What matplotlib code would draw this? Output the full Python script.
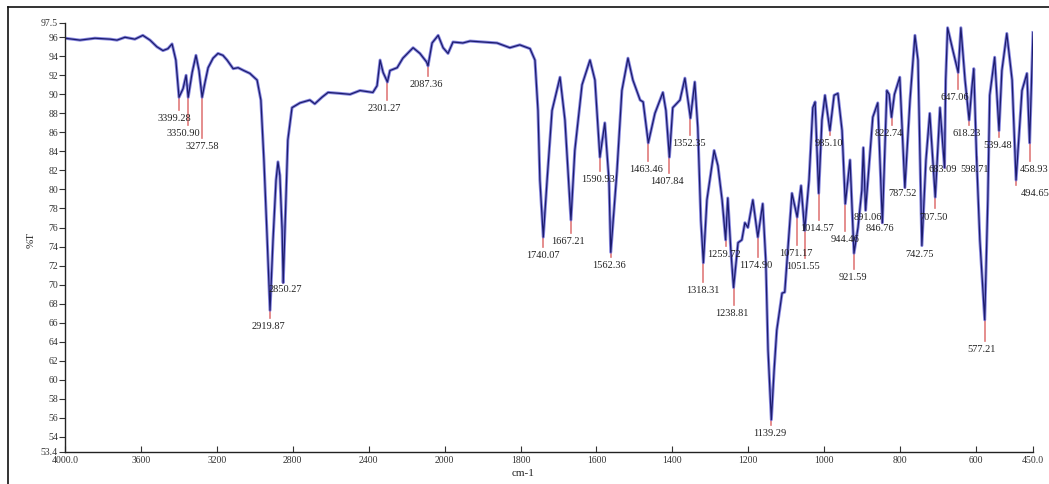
import numpy as np
import matplotlib
matplotlib.use("Agg")
import matplotlib.pyplot as plt
from matplotlib.lines import Line2D

# spectrum (wavenumber cm-1, %T)
wn = [4000, 3921, 3842, 3762, 3726, 3684, 3632, 3590, 3552, 3516,
      3484, 3458, 3436, 3416, 3399.28, 3378, 3362, 3350.9, 3330, 3310,
      3294, 3277.58, 3262, 3246, 3220, 3194, 3168, 3146, 3114, 3088,
      3058, 3026, 2988, 2968, 2952, 2936, 2919.87, 2904, 2888, 2878,
      2868, 2856, 2850.27, 2836, 2826, 2804, 2762, 2710, 2684, 2646,
      2614, 2552, 2498, 2446, 2378, 2356, 2340, 2324, 2301.27, 2288,
      2250, 2220, 2166, 2130, 2095, 2087.36, 2066, 2034, 2008, 1991,
      1978, 1952, 1933, 1899, 1862, 1828, 1802, 1775, 1762, 1754,
      1749, 1740.07, 1730, 1717, 1696, 1683, 1667.21, 1657, 1638, 1617,
      1604, 1590.93, 1578, 1567, 1562.36, 1546, 1533, 1517, 1504, 1485,
      1477, 1463.46, 1446, 1425, 1417, 1407.84, 1399, 1380, 1367, 1352.35,
      1341, 1333, 1325, 1318.31, 1309, 1290, 1280, 1269, 1259.72, 1254,
      1246, 1238.81, 1227, 1217, 1209, 1201, 1188, 1174.9, 1162, 1154,
      1148, 1139.29, 1132, 1125, 1111, 1104, 1096, 1085, 1071.17, 1061,
      1051.55, 1040, 1030, 1024, 1014.57, 1006, 998, 985.1, 974, 964,
      953, 944.46, 932, 921.59, 911, 901, 897, 891.06, 872, 859,
      846.76, 835, 829, 822.74, 815, 801, 787.52, 774, 761, 753,
      742.75, 732, 722, 707.5, 695, 683.09, 680, 675, 661, 647.06,
      640, 629, 618.23, 611, 606, 598.71, 590, 577.21, 569, 564,
      551, 539.48, 532, 519, 505, 494.65, 479, 466, 458.93, 450]
tr = [95.9, 95.7, 95.9, 95.8, 95.7, 96.0, 95.8, 96.2, 95.7, 95.0,
      94.6, 94.8, 95.3, 93.6, 89.7, 90.6, 92.0, 89.7, 92.3, 94.1,
      92.5, 89.7, 91.3, 92.8, 93.8, 94.3, 94.1, 93.6, 92.7, 92.8,
      92.5, 92.2, 91.5, 89.4, 83.1, 75.4, 67.3, 74.7, 81.0, 82.9,
      81.5, 75.7, 70.2, 78.9, 85.2, 88.6, 89.1, 89.4, 89.0, 89.7,
      90.2, 90.1, 90.0, 90.4, 90.2, 90.9, 93.6, 92.3, 91.3, 92.5,
      92.8, 93.8, 94.9, 94.3, 93.4, 93.0, 95.4, 96.2, 94.9, 94.3,
      95.5, 95.4, 95.6, 95.5, 95.4, 94.9, 95.2, 94.8, 93.6, 88.3,
      81.0, 75.0, 81.0, 88.3, 91.8, 87.3, 76.8, 84.1, 91.0, 93.6,
      91.5, 83.4, 87.0, 81.0, 73.4, 81.9, 90.4, 93.8, 91.5, 89.4,
      89.2, 84.9, 88.0, 90.2, 88.3, 83.4, 88.6, 89.4, 91.7, 87.5,
      91.3, 86.5, 76.8, 72.3, 78.9, 84.1, 82.5, 78.9, 74.7, 79.1,
      73.6, 69.7, 74.4, 74.7, 76.5, 76.0, 78.9, 75.0, 78.5, 72.6,
      63.1, 55.8, 61.0, 65.2, 69.1, 69.2, 73.6, 79.6, 77.1, 80.4,
      75.7, 81.0, 88.6, 89.2, 79.6, 87.3, 89.9, 86.2, 89.9, 90.1,
      86.2, 78.5, 83.1, 73.3, 76.0, 79.9, 84.4, 77.8, 87.6, 89.1,
      76.5, 90.4, 90.0, 87.6, 90.0, 91.8, 80.2, 89.4, 96.2, 93.6,
      74.1, 83.1, 88.0, 79.2, 88.6, 82.3, 91.5, 97.0, 94.6, 92.3,
      97.0, 91.5, 87.3, 90.7, 92.7, 83.4, 74.7, 66.3, 78.9, 89.9,
      93.9, 86.2, 92.5, 96.4, 91.5, 81.0, 90.4, 92.2, 84.9, 96.5]

# picked peaks and where their labels sit
peaks = [3399.28, 3350.90, 3277.58, 2919.87, 2850.27, 2301.27, 2087.36,
         1740.07, 1667.21, 1590.93, 1562.36, 1463.46, 1407.84, 1352.35,
         1318.31, 1259.72, 1238.81, 1174.90, 1139.29, 1071.17, 1051.55,
         1014.57, 985.10, 944.46, 921.59, 891.06, 846.76, 822.74, 787.52,
         742.75, 707.50, 683.09, 598.71, 647.06, 618.23, 577.21, 539.48,
         458.93, 494.65]
lab_x = [3426, 3378, 3278, 2930, 2840, 2320, 2098,
         1741, 1675, 1596, 1567, 1470, 1414, 1356,
         1319, 1264, 1243, 1180, 1143, 1075, 1056,
         1019, 988, 945, 924, 885, 853, 830, 793,
         748, 711, 687, 603, 656, 624, 585, 543,
         448, 445]
lab_y = [87.5, 85.9, 84.5, 65.6, 69.5, 88.5, 91.0,
         73.1, 74.5, 81.0, 72.0, 82.1, 80.8, 84.8,
         69.4, 73.2, 67.0, 72.0, 54.3, 73.3, 71.9,
         75.9, 84.8, 74.7, 70.7, 77.1, 75.9, 85.9, 79.6,
         73.2, 77.1, 82.1, 82.1, 89.7, 85.9, 63.2, 84.6,
         82.1, 79.6]

xticks = [4000, 3600, 3200, 2800, 2400, 2000, 1800, 1600, 1400, 1200,
          1000, 800, 600, 450]
xtick_labels = ['4000.0', '3600', '3200', '2800', '2400', '2000', '1800',
                '1600', '1400', '1200', '1000', '800', '600', '450.0']
yticks = [52.4] + list(range(54, 97, 2)) + [97.5]
ytick_labels = ['53.4'] + [str(v) for v in range(54, 97, 2)] + ['97.5']


# instrument-style axis: above 2000 cm-1 the scale is compressed 2x
def fwd(x):
    x = np.asarray(x, dtype=float)
    return np.where(x > 2000, 1000 + x / 2.0, x)


def inv(u):
    u = np.asarray(u, dtype=float)
    return np.where(u > 2000, 2.0 * (u - 1000), u)


plt.rcParams['font.family'] = ['Liberation Serif', 'DejaVu Serif']

fig = plt.figure(figsize=(10.49, 4.84), dpi=100)
ax = fig.add_axes([65 / 1049, 1 - 452 / 484, 968 / 1049, 429 / 484])
ax.set_xscale('function', functions=(fwd, inv))

ax.plot(wn, tr, color='#6a6ad8', lw=2.2, alpha=0.8)
ax.plot(wn, tr, color='#1c1c6e', lw=0.9)

wn_arr = np.array(wn)[::-1]
tr_arr = np.array(tr)[::-1]
for p, lx, ly in zip(peaks, lab_x, lab_y):
    py = np.interp(p, wn_arr, tr_arr)
    ax.plot([p, p], [py, ly + 0.9], color='#e07a7a', lw=1.2, zorder=1)
    ax.text(lx, ly, '%.2f' % p, ha='center', va='center', fontsize=7.5,
            color='#222222', clip_on=False)

ax.set_xlim(4000, 450)
ax.set_ylim(52.4, 97.5)
ax.set_xticks(xticks)
ax.set_xticklabels(xtick_labels)
ax.set_yticks(yticks)
ax.set_yticklabels(ytick_labels)
ax.minorticks_off()
ax.tick_params(axis='x', direction='in', length=4, labelsize=7,
               colors='#333333', pad=3)
ax.tick_params(axis='y', direction='out', length=4, labelsize=7,
               colors='#333333', pad=1)
for s in ['top', 'right']:
    ax.spines[s].set_visible(False)
for s in ['left', 'bottom']:
    ax.spines[s].set_color('#222222')
    ax.spines[s].set_linewidth(1.0)

fig.text(523 / 1049, 1 - 474 / 484, 'cm-1', ha='center', va='center',
         fontsize=8, color='#222222')
fig.text(31 / 1049, 1 - 240 / 484, '%T', ha='center', va='center',
         rotation=90, fontsize=8, color='#222222')

# outer frame of the screenshot (top and left edges)
fig.add_artist(Line2D([8 / 1049, 1], [1 - 7 / 484, 1 - 7 / 484],
                      color='#111111', lw=1.2))
fig.add_artist(Line2D([8 / 1049, 8 / 1049], [0, 1 - 7 / 484],
                      color='#111111', lw=1.2))

fig.savefig('out.png', dpi=100)
